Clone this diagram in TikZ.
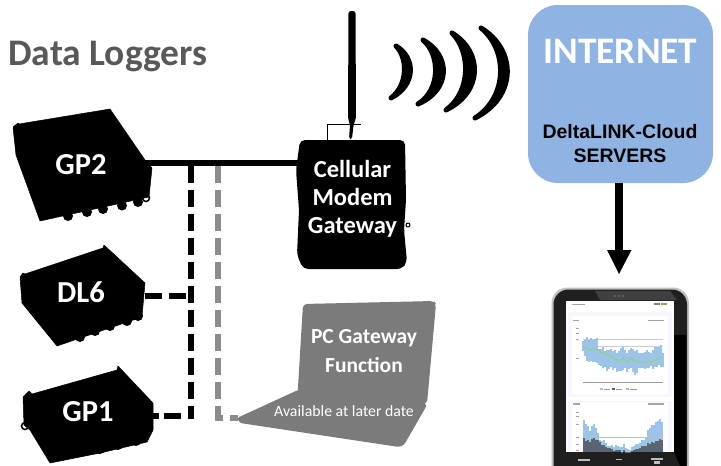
\documentclass[tikz,border=0pt]{standalone}
\usepackage{fontspec}
\setmainfont{Carlito}
\newfontfamily\arialf{Liberation Sans}
\usetikzlibrary{calc}
\definecolor{gtitle}{HTML}{595959}
\definecolor{gline}{HTML}{8C8C8C}
\definecolor{lap}{HTML}{7B7B7B}
\definecolor{cloud}{HTML}{8FB4E3}
\definecolor{chartb}{HTML}{9CC3E8}
\definecolor{chartd}{HTML}{5A6472}
\definecolor{chartg}{HTML}{8FD08F}
\tikzset{
  devshape/.style={fill=black,draw=black,line width=0.5pt,line join=round},
  bump/.style={fill=black},
  devlabel/.style={text=white,font=\bfseries\fontsize{30.5}{30.5}\selectfont,inner sep=0pt},
  gwlabel/.style={text=white,font=\bfseries\fontsize{24.5}{28}\selectfont,align=center,inner sep=0pt},
  solidlink/.style={black,line width=6pt},
  blink/.style={black,line width=6pt,dash pattern=on 17pt off 7pt},
  glink/.style={gline,line width=6pt,dash pattern=on 17pt off 7pt},
  wave/.style={fill=black,draw=black,line width=5pt,line join=round,line cap=round}
}
\begin{document}
\begin{tikzpicture}[x=1pt,y=-1pt]
\useasboundingbox (0,0) rectangle (721,466);
\fill[white] (0,0) rectangle (721,466);

\node[anchor=west,text=gtitle,font=\bfseries\fontsize{37.5}{37.5}\selectfont,inner sep=0pt] (title) at (8,57) {Data Loggers};

% connector ends
\coordinate (gpout) at (145,163);
\coordinate (gwin) at (299,163);
\coordinate (t1) at (191,166);
\coordinate (t2) at (218,166);
\coordinate (j1) at (191,296);
\coordinate (j2) at (191,416);
\coordinate (j3) at (191,419);
\coordinate (c3) at (218,418);
\coordinate (e3) at (238,418);
\coordinate (dlout) at (145,296);
\coordinate (g1out) at (153,416);

% GP2
\foreach \p in {(68,216),(87,212),(103,209),(122,205.5),(138,202)} \fill[bump] \p circle (5);
\draw[black,line width=1.5pt] (146,198) circle (3.5);
\draw[devshape] (13,127) -- (18,123) -- (19,124) -- (110,109) -- (145,160) -- (152,168) -- (149,197) -- (40,221) -- (16,155) -- cycle;
\node[devlabel] (gp2) at (81,165) {GP2};

% DL6
\foreach \p in {(80,337),(95,331),(110,326),(127,321),(138,316)} \fill[bump] \p circle (5);
\draw[devshape] (20,277) -- (23,273) -- (25,274) -- (103,248) -- (104,245) -- (145,283) -- (142,317) -- (57,346) -- (22,303) -- cycle;
\node[devlabel] (dl6) at (81,292) {DL6};

% GP1
\foreach \p in {(65,450),(85,450),(100,449),(118,445),(136,441)} \fill[bump] \p circle (5);
\draw[black,line width=1.5pt] (25,426) circle (3.5);
\draw[devshape] (23,397) -- (29,391) -- (32,394) -- (117,370) -- (118,366) -- (153,403) -- (153,430) -- (147,442) -- (100,453) -- (50,463) -- (30,430) -- (24,425) -- cycle;
\node[devlabel] (gp1) at (88,412) {GP1};

% Gateway
\draw[black,line width=1pt] (327,140) -- (327,124) -- (361,124);
\fill[black,rounded corners=2.5pt] (348.5,11) -- (355.5,11) -- (356,118) -- (353.5,125) -- (352,139) -- (349,139) -- (350,125) -- (348,118) -- cycle;
\draw[fill=white,draw=black,line width=1pt] (408,225) circle (2);
\fill[black,rounded corners=5pt] (300,140) -- (405,140) -- (406,200) -- (404,230) -- (407,262) -- (402,269) -- (303,269) -- (297,255) -- (299,210) -- (296,170) -- cycle;
\node[gwlabel] (gw) at (352.5,199) {Cellular\\Modem\\Gateway};

\draw[solidlink] (gpout) -- (gwin);
\draw[blink] (t1) -- (j3);
\draw[glink] (t2) -- (c3) -- (e3);
\draw[blink] (dlout) -- (j1);
\draw[blink,dash pattern=on 6pt off 5pt on 17pt off 7pt] (g1out) -- (j2);

% Waves
\path[wave] (396,46) .. controls (408,58) and (408,85) .. (391,98) .. controls (416,85) and (416,58) .. cycle;
\path[wave] (423,40) .. controls (440.5,55) and (440.5,90) .. (418,104) .. controls (451,90) and (451,55) .. cycle;
\path[wave] (452,33) .. controls (471,52) and (471,92) .. (446,110) .. controls (483,92) and (483,52) .. cycle;
\path[wave] (481,28) .. controls (508,50) and (508,97) .. (475,118) .. controls (517,97) and (517,50) .. cycle;

% Internet
\node[fill=cloud,rounded corners=30pt,minimum width=185pt,minimum height=178pt,inner sep=0pt] (net) at (620.5,94) {};
\node[text=white,font=\bfseries\fontsize{37.4}{37.4}\selectfont,inner sep=0pt] (nettxt) at (620.5,51) {INTERNET};
\node[text=black,font=\arialf\bfseries\fontsize{19.5}{24}\selectfont,align=center,inner sep=0pt] (srv) at (620,143.5) {DeltaLINK-Cloud\\SERVERS};
\fill[black] (615,183) rectangle (623,251);
\fill[black] (607,250) -- (631.5,250) -- (619,274) -- cycle;

% Tablet
\fill[black!25!white,rounded corners=16pt] (551.5,287.5) rectangle (689,480);
\fill[black!88!white,rounded corners=15pt] (553.5,289.5) rectangle (687,480);
\fill[black!75!white] (595,291) -- (670,291) -- (677,300) -- (600,300) -- cycle;
\fill[black] (674,335) -- (686,335) -- (686,466) -- (680,466) -- (674,452) -- cycle;
\foreach \xx in {615,619,623} \fill[gray] (\xx,296) circle (0.9);
\fill[white] (566,301) rectangle (674,452);
\fill[black!35!white] (572,303.5) rectangle (585,304.8);
\fill[black!50!white] (654,303) rectangle (660,305);
\fill[chartg!60!olive] (661,303) rectangle (667,305);
\fill[blue!3!white] (568,312) rectangle (672,397);
\fill[blue!3!white] (568,401) rectangle (672,452);
\fill[white] (572,316) rectangle (668,394);
\fill[white] (572,403) rectangle (668,452);
\fill[black!35!white] (573,319.5) rectangle (579,321);
\fill[black!35!white] (648,319.5) rectangle (664,321);
\fill[black!35!white] (573,403) rectangle (580,405);
\fill[black!35!white] (648,403) rectangle (664,405);
\draw[black!20!white,line width=0.5pt] (583,339.5) -- (663,339.5) (583,346) -- (663,346) (583,382) -- (663,382);
\foreach \yy in {328,333,339,358} \fill[black!35!white] (576,\yy) rectangle (579,\yy+1);
\pgfmathsetseed{7}
\foreach \xx/\tp/\bt in {583/340/352,585/341/356,587/338/360,589/340/361,591/338/360,593/340/362,595/339/362,597/338/364,599/350/366,601/349/367,603/348/369,605/350/368,607/351/370,609/350/368,611/349/367,613/350/369,615/351/368,617/352/371,619/350/372,621/349/372,623/347/369,625/349/367,627/352/371,629/350/370,631/348/369,633/349/373,635/350/374,637/351/372,639/353/369,641/352/367,643/352/368,645/351/369,647/351/367,649/352/367,651/352/366,653/350/368,655/348/368,657/347/366,659/346/366,661/346/367,663/352/366} {
  \pgfmathsetmacro\ra{rnd*3-1.5}
  \pgfmathsetmacro\rb{rnd*3-1.5}
  \fill[chartb] (\xx-1,\tp+\ra) rectangle (\xx+1,\bt+\rb);
}
\draw[chartg,line width=1.3pt,line join=round] (584,347) -- (588,349) -- (592,350) -- (597,349) -- (601,352) -- (606,354) -- (611,356) -- (615,359) -- (619,361) -- (623,358) -- (627,362) -- (631,358) -- (635,361) -- (639,362) -- (644,363) -- (648,361) -- (652,362) -- (656,360) -- (661,358);
\draw[black!40!white,line width=0.6pt] (583,382) -- (663,382);
\fill[chartb] (600,388) rectangle (603,390);
\fill[black!40!white] (603.5,388.5) rectangle (610,389.5);
\fill[chartd] (612,388) rectangle (615,390);
\fill[black!40!white] (615.5,388.5) rectangle (622,389.5);
\fill[chartg] (626,388) rectangle (629,390);
\fill[black!40!white] (629.5,388.5) rectangle (637,389.5);
\foreach \yy in {412,416,424,437,444,450} \fill[black!35!white] (576,\yy) rectangle (579,\yy+1);
\foreach \xx/\tp/\dk in {584/421/439,586/423/440,588/425/439,590/430/441,592/427/440,594/425/438,596/428/440,598/434/441,600/441/443,602/441/445,604/441/446,606/443/447,608/446/448,610/447/449,612/445/449,614/446/450,616/445/450,618/447/451,620/448/451,622/446/451,624/445/451,626/448/452,628/449/452,630/450/452,632/448/452,634/447/451,636/445/450,638/444/449,640/443/448,642/441/447,644/440/446,646/436/445,648/431/444,650/428/444,652/426/443,654/424/442,656/423/442,658/421/441,660/420/440,662/423/441} {
  \pgfmathsetmacro\ra{rnd*2-1}
  \fill[chartb] (\xx-1,\tp+\ra) rectangle (\xx+1,452);
  \fill[chartd] (\xx-1,\dk+\ra) rectangle (\xx+1,452);
}
\draw[black!25!white,line width=0.4pt] (583,437) -- (663,437);
\fill[white!75!black] (578,459) rectangle (590,461);
\fill[white!75!black] (616,458.5) -- (622,458.5) -- (622,460) -- (616,460) -- cycle;
\fill[white!75!black] (651,458) rectangle (663,460);
\fill[white!75!black] (654,461) rectangle (660,464);

% Laptop
\fill[lap,rounded corners=4pt] (303,304) -- (434,301) -- (436,304) -- (427,404) -- (297,404) -- cycle;
\fill[lap,rounded corners=2.5pt] (298,390) -- (420,400) -- (427,405) -- (404,445) -- (399,447) -- (240,423) -- (237,418) -- cycle;
\node[text=white,font=\bfseries\fontsize{21.5}{29}\selectfont,align=center,inner sep=0pt] (pc) at (364,351.5) {PC Gateway\\Function};
\node[text=white,font=\fontsize{15.8}{16}\selectfont,inner sep=0pt] (later) at (344,411) {Available at later date};
\end{tikzpicture}
\end{document}
